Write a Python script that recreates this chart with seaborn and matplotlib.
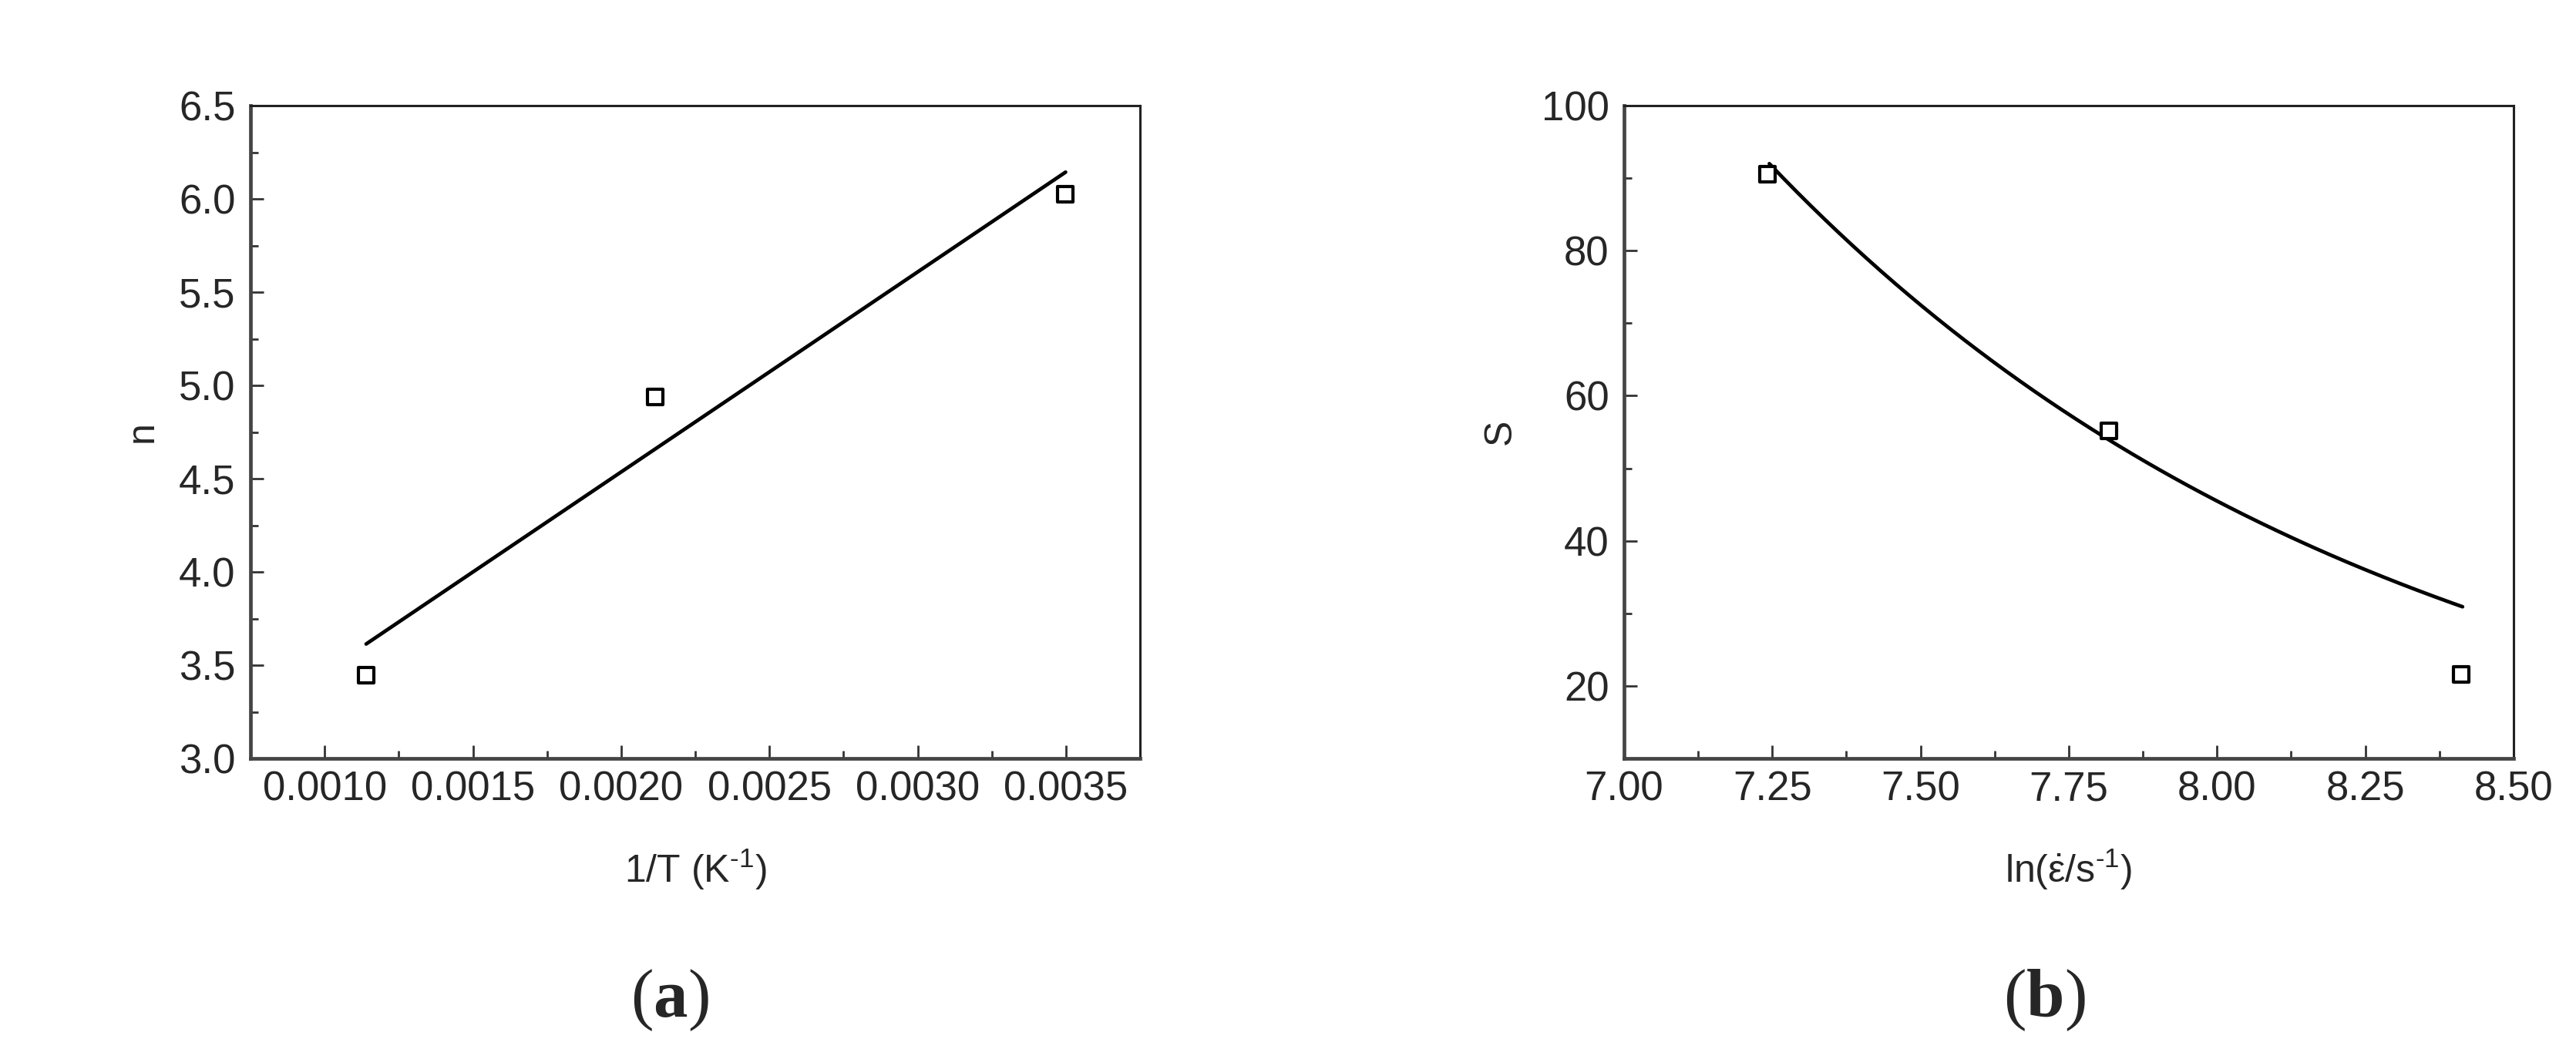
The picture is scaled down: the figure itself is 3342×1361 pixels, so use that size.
import numpy as np
import pandas as pd
import matplotlib
matplotlib.use("Agg")
import matplotlib.pyplot as plt
from matplotlib.ticker import MultipleLocator, AutoMinorLocator, FormatStrFormatter
import seaborn as sns

# values
inv_T = [0.00114, 0.002114, 0.003499]      # 1/T (K^-1)
n_vals = [3.448, 4.94, 6.027]               # stress exponent n

ln_rate = [7.242, 7.818, 8.411]             # ln(strain rate)
s_vals = [90.5, 55.2, 21.6]                 # S

# exponential curve drawn in panel (b), parameters
s_fit_x0, s_fit_x1 = 7.245, 8.414
s_fit_y0 = 92.0
s_fit_rate = 0.933

sns.set_style("ticks")
plt.rcParams['font.family'] = ['Liberation Sans', 'DejaVu Sans']
plt.rcParams['mathtext.fontset'] = 'custom'
plt.rcParams['mathtext.rm'] = 'Liberation Sans'
plt.rcParams['mathtext.it'] = 'Liberation Sans:italic'
plt.rcParams['mathtext.bf'] = 'Liberation Serif:bold'

fig = plt.figure(figsize=(33.42, 13.61), dpi=100)
ax_a = fig.add_axes([0.09725, 0.277, 0.3453, 0.6223])
ax_b = fig.add_axes([0.63046, 0.277, 0.3453, 0.6223])

marker_kws = dict(marker='s', s=190, facecolor='white', edgecolor='black', linewidth=3.0, zorder=3)

# (a) linear fit + points
df_a = pd.DataFrame({'x': inv_T, 'n': n_vals})
sns.regplot(data=df_a, x='x', y='n', ax=ax_a, ci=None, truncate=True, scatter=False,
            line_kws=dict(color='black', lw=3.4))
sns.scatterplot(data=df_a, x='x', y='n', ax=ax_a, **marker_kws)

# (b) exponential curve + points
df_b = pd.DataFrame({'x': ln_rate, 'S': s_vals})
x_fit = np.linspace(s_fit_x0, s_fit_x1, 200)
df_fit = pd.DataFrame({'x': x_fit, 'S': s_fit_y0 * np.exp(-s_fit_rate * (x_fit - s_fit_x0))})
sns.lineplot(data=df_fit, x='x', y='S', ax=ax_b, color='black', lw=3.4, sort=False)
sns.scatterplot(data=df_b, x='x', y='S', ax=ax_b, **marker_kws)

# hyphen-style superscript like the original
sup = '$^{\\mathregular{\u2010' + '1}}$'

ax_a.set_xlim(0.00075, 0.00375)
ax_a.set_ylim(3.0, 6.5)
ax_a.xaxis.set_major_locator(MultipleLocator(0.0005))
ax_a.xaxis.set_major_formatter(FormatStrFormatter('%.4f'))
ax_a.yaxis.set_major_locator(MultipleLocator(0.5))
ax_a.yaxis.set_major_formatter(FormatStrFormatter('%.1f'))
ax_a.set_xlabel('1/T (K' + sup + ')', fontsize=36)
ax_a.set_ylabel('n', fontsize=36)
ax_a.xaxis.set_label_coords(0.5, -0.17)
ax_a.yaxis.set_label_coords(-0.122, 0.5)

ax_b.set_xlim(7.0, 8.5)
ax_b.set_ylim(10, 100)
ax_b.xaxis.set_major_locator(MultipleLocator(0.25))
ax_b.xaxis.set_major_formatter(FormatStrFormatter('%.2f'))
ax_b.yaxis.set_major_locator(MultipleLocator(20))
ax_b.set_xlabel(r'ln($\mathregular{\dot{\varepsilon}}$/s' + sup + ')', fontsize=36)
ax_b.set_ylabel('S', fontsize=36)
ax_b.xaxis.set_label_coords(0.5, -0.17)
ax_b.yaxis.set_label_coords(-0.139, 0.5)

for ax in (ax_a, ax_b):
    ax.xaxis.label.set_va('center')
    ax.yaxis.label.set_va('center')
    ax.xaxis.set_minor_locator(AutoMinorLocator(2))
    ax.yaxis.set_minor_locator(AutoMinorLocator(2))
    ax.tick_params(which='both', direction='in', top=False, right=False,
                   width=2.0, color='#333333', labelsize=38)
    ax.tick_params(axis='x', which='major', length=12, pad=11)
    ax.tick_params(axis='y', which='major', length=12, pad=14)
    ax.tick_params(which='minor', length=7)
    for side in ('left', 'bottom'):
        ax.spines[side].set_linewidth(3.4)
        ax.spines[side].set_color('#444444')
    for side in ('top', 'right'):
        ax.spines[side].set_visible(True)
        ax.spines[side].set_linewidth(2.2)
        ax.spines[side].set_color('#222222')

fig.text(0.2600, 0.0463, r'($\mathbf{a}$)', fontsize=64, family='Liberation Serif',
         ha='center', va='center')
fig.text(0.7935, 0.0463, r'($\mathbf{b}$)', fontsize=64, family='Liberation Serif',
         ha='center', va='center')

fig.savefig('out.png', dpi=100, facecolor='white')
